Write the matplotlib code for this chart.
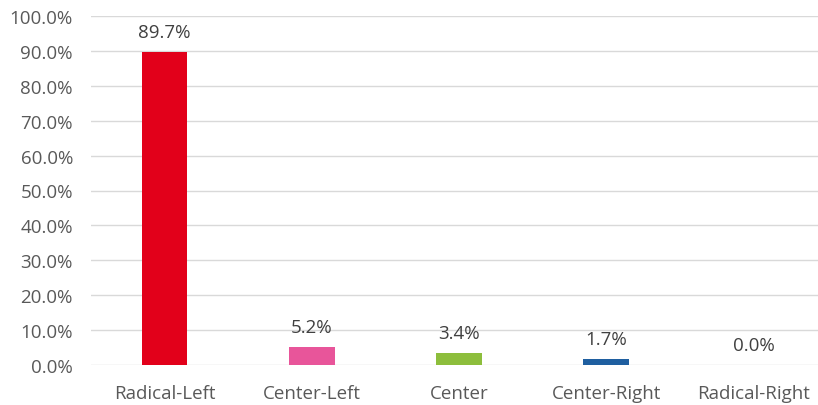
import matplotlib.pyplot as plt
from matplotlib.ticker import PercentFormatter

categories = ['Radical-Left', 'Center-Left', 'Center', 'Center-Right', 'Radical-Right']
shares = [89.7, 5.2, 3.4, 1.7, 0.0]
colors = ['#E2001A', '#E8559A', '#8DBE3C', '#1F5FA0', '#7F7F7F']

plt.rcParams['font.family'] = ['Open Sans', 'DejaVu Sans']

fig = plt.figure(figsize=(8.18, 4.06), dpi=100)
ax = fig.add_axes([91 / 818, 40 / 406, 736 / 818, 349 / 406])

x = range(len(categories))
bars = ax.bar(x, shares, width=0.31, color=colors, zorder=3)

for b, v in zip(bars, shares):
    ax.annotate(f'{v:.1f}%', (b.get_x() + b.get_width() / 2, v),
                xytext=(0, 8), textcoords='offset points',
                ha='center', va='bottom', fontsize=13.5, color='#404040')

ax.set_ylim(0, 100)
ax.set_xlim(-0.5, len(categories) - 0.5)
ax.set_yticks(range(0, 101, 10))
ax.yaxis.set_major_formatter(PercentFormatter(decimals=1))
ax.set_xticks(list(x))
ax.set_xticklabels(categories)
ax.tick_params(axis='both', length=0, labelsize=13.5, labelcolor='#595959')
ax.tick_params(axis='x', pad=14)
ax.tick_params(axis='y', pad=13)
ax.grid(axis='y', color='#D9D9D9', linewidth=1, zorder=0)
for s in ax.spines.values():
    s.set_visible(False)

fig.savefig('out.png', dpi=100)
